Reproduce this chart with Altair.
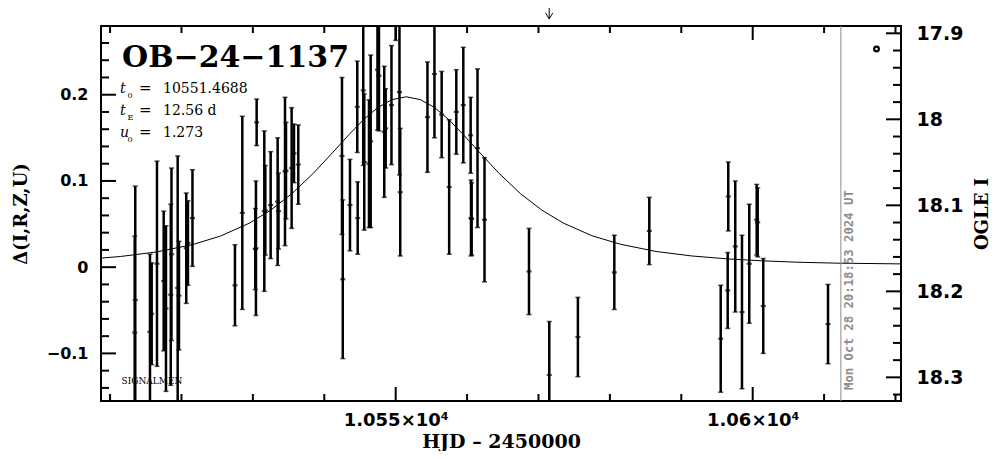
import altair as alt
import pandas as pd

# ---------------- data ----------------
hjd = [10513.53, 10513.45, 10515.59, 10515.83, 10516.57, 10517.51, 10517.83, 10518.60, 10518.50,
       10519.47, 10519.65, 10520.67, 10520.91, 10521.54,
       10527.49, 10528.52, 10530.53, 10530.43, 10530.34, 10531.60, 10531.74, 10532.49, 10533.47,
       10533.59, 10534.50, 10534.64, 10535.43, 10535.76, 10536.36,
       10542.48, 10542.59, 10543.60, 10544.62, 10544.68, 10545.46, 10545.60, 10546.26, 10546.50,
       10547.45, 10547.66, 10548.40, 10548.60, 10549.41, 10550.01, 10550.53, 10550.64,
       10554.45, 10555.43, 10556.44, 10557.49, 10558.49, 10559.47, 10560.50, 10560.55, 10560.64,
       10561.46, 10562.44,
       10568.67, 10571.51, 10575.52, 10580.62, 10585.52,
       10595.52, 10596.50, 10596.58, 10597.56, 10598.50, 10599.52, 10600.56, 10600.70, 10601.48,
       10610.55]
delta = [-0.038, -0.076, -0.075, -0.054, 0.004, -0.016, -0.048, 0.015, -0.032,
         -0.024, -0.033, 0.022, 0.028, 0.057,
         -0.021, 0.063, 0.168, 0.022, 0.021, 0.065, 0.066, 0.072, 0.076,
         0.065, 0.111, 0.112, 0.115, 0.132, 0.119,
         0.129, -0.014, 0.072, 0.186, 0.057, 0.205, 0.122, 0.120, 0.146,
         0.229, 0.222, 0.157, 0.161, 0.188, 0.298, 0.203, 0.087,
         0.174, 0.224, 0.177, 0.093, 0.180, 0.188, 0.153, 0.057, 0.056,
         0.138, 0.055,
         -0.005, -0.125, -0.081, -0.006, 0.042,
         -0.083, -0.027, 0.082, 0.024, -0.052, 0.004, 0.055, 0.052, -0.045,
         -0.066]
err = [0.132, 0.112, 0.090, 0.059, 0.119, 0.081, 0.096, 0.100, 0.105,
       0.153, 0.063, 0.064, 0.049, 0.056,
       0.047, 0.112, 0.027, 0.078, 0.047, 0.093, 0.052, 0.062, 0.074,
       0.044, 0.086, 0.056, 0.070, 0.034, 0.046,
       0.091, 0.092, 0.053, 0.053, 0.042, 0.087, 0.079, 0.074, 0.100,
       0.070, 0.064, 0.076, 0.046, 0.069, 0.035, 0.096, 0.074,
       0.064, 0.074, 0.050, 0.078, 0.049, 0.067, 0.044, 0.044, 0.042,
       0.092, 0.072,
       0.050, 0.062, 0.046, 0.043, 0.039,
       0.062, 0.044, 0.040, 0.076, 0.089, 0.069, 0.041, 0.040, 0.055,
       0.046]

# model curve
model_hjd = [10508.73, 10511.47, 10516.47, 10521.47, 10525.47, 10529.47, 10532.47, 10535.47,
             10538.47, 10541.47, 10543.47, 10545.47, 10547.47, 10549.47, 10551.47, 10553.47,
             10555.47, 10557.47, 10559.47, 10561.47, 10564.47, 10567.47, 10570.47, 10573.47,
             10577.47, 10581.47, 10586.47, 10591.47, 10596.47, 10601.47, 10606.47, 10611.47,
             10620.77]
model_delta = [0.0105, 0.0124, 0.0176, 0.0260, 0.0361, 0.0509, 0.0660, 0.0853,
               0.1089, 0.1356, 0.1538, 0.1709, 0.1850, 0.1943, 0.1976, 0.1943,
               0.1850, 0.1709, 0.1538, 0.1356, 0.1089, 0.0853, 0.0662, 0.0512,
               0.0365, 0.0266, 0.0182, 0.0130, 0.0096, 0.0073, 0.0057, 0.0047,
               0.0038]

x_major = [10550, 10600]
x_minor = [10510, 10520, 10530, 10540, 10560, 10570, 10580, 10590, 10610, 10620]
y_major = [-0.1, 0.0, 0.1, 0.2]
y_minor = [-0.14, -0.12, -0.08, -0.06, -0.04, -0.02, 0.02, 0.04, 0.06, 0.08,
           0.12, 0.14, 0.16, 0.18, 0.22, 0.24, 0.26]
mag_major = [17.9, 18.0, 18.1, 18.2, 18.3]
mag_minor = [17.92, 17.94, 17.96, 17.98, 18.02, 18.04, 18.06, 18.08, 18.12, 18.14,
             18.16, 18.18, 18.22, 18.24, 18.26, 18.28, 18.32]

event_name = "OB\u221224\u22121137"
param_sym = ["t", "t", "u"]
param_sub = ["0", "E", "0"]
param_val = ["10551.4688", "12.56 d", "1.273"]
survey_label = "SIGNALMEN"
timestamp = "Mon Oct 28 20:18:53 2024 UT"
now_hjd = [10612.35]
arrow_hjd = [10571.5]

X_DOMAIN = [10508.73, 10620.77]
Y_DOMAIN = [-0.1552, 0.2797]
M_DOMAIN = [17.8915, 18.3275]
W, H = 800, 375

# ---------------- chart ----------------
pts = pd.DataFrame({"hjd": hjd, "delta": delta, "err": err})
pts["lo"] = pts["delta"] - pts["err"]
pts["hi"] = pts["delta"] + pts["err"]
model = pd.DataFrame({"hjd": model_hjd, "delta": model_delta})

xs = alt.Scale(domain=X_DOMAIN, nice=False, zero=False)
ys = alt.Scale(domain=Y_DOMAIN, nice=False, zero=False)
ms = alt.Scale(domain=M_DOMAIN, nice=False, zero=False, reverse=True)

xaxis = alt.Axis(values=x_major, labelExpr="format(datum.value / 10000, '') + '\u00d710\u2074'",
                 labelFontSize=18, labelPadding=10, title="HJD \u2013 2450000",
                 titleFontSize=19, titlePadding=3, orient="bottom")
yaxis = alt.Axis(values=y_major,
                 labelExpr="datum.value < 0 ? '\u2212' + format(-datum.value, '') : format(datum.value, '')",
                 labelFontSize=16, labelPadding=13, title="\u0394(I,R,Z,U)",
                 titleFontSize=18, titleAngle=270, titlePadding=16)
maxis = alt.Axis(values=mag_major, orient="right", labelExpr="format(datum.value, '')",
                 labelFontSize=19, labelPadding=15, title="OGLE I", titleFontSize=18,
                 titleAngle=270, titleBaseline="top", titlePadding=11)

X = alt.X("hjd:Q", scale=xs, axis=xaxis)


def Y(field):
    return alt.Y(f"{field}:Q", scale=ys, axis=yaxis)


curve = alt.Chart(model).mark_line(color="black", strokeWidth=1, clip=True).encode(x=X, y=Y("delta"))
bars = alt.Chart(pts).mark_rule(color="black", strokeWidth=2.5, clip=True).encode(
    x=X, y=Y("lo"), y2=alt.Y2("hi"))
caps_lo = alt.Chart(pts).mark_tick(orient="horizontal", color="black", size=5, thickness=1.5,
                                   clip=True).encode(x=X, y=Y("lo"))
caps_hi = alt.Chart(pts).mark_tick(orient="horizontal", color="black", size=5, thickness=1.5,
                                   clip=True).encode(x=X, y=Y("hi"))
dots = alt.Chart(pts).mark_tick(orient="horizontal", color="black", size=5, thickness=2.2,
                                clip=True).encode(x=X, y=Y("delta"))


def xticks(values, length):
    df = pd.DataFrame({"hjd": values})
    top = alt.Chart(df).mark_rule(color="black", strokeWidth=2).encode(
        x=X, y=alt.value(0), y2=alt.value(length))
    bot = alt.Chart(df).mark_rule(color="black", strokeWidth=2).encode(
        x=X, y=alt.value(H), y2=alt.value(H - length))
    return [top, bot]


def yticks(values, length):
    df = pd.DataFrame({"delta": values})
    return alt.Chart(df).mark_rule(color="black", strokeWidth=2).encode(
        y=Y("delta"), x=alt.value(0), x2=alt.value(length))


def mticks(values, length):
    df = pd.DataFrame({"mag": values})
    return alt.Chart(df).mark_rule(color="black", strokeWidth=2).encode(
        y=alt.Y("mag:Q", scale=ms, axis=maxis), x=alt.value(W), x2=alt.value(W - length))


def label(text, x, y, **kw):
    return alt.Chart(pd.DataFrame({"label": [text]})).mark_text(**kw).encode(
        x=alt.value(x), y=alt.value(y), text="label:N")


now_line = alt.Chart(pd.DataFrame({"hjd": now_hjd})).mark_rule(
    color="#8c8c8c", strokeWidth=1).encode(x=X, y=alt.value(0), y2=alt.value(H))
arrow_shaft = alt.Chart(pd.DataFrame({"hjd": arrow_hjd})).mark_rule(
    color="black", strokeWidth=1).encode(x=X, y=alt.value(-30), y2=alt.value(-7))
arrow_head = alt.Chart(pd.DataFrame({"hjd": arrow_hjd})).mark_point(
    shape="M-1,-1.7L0,0L1,-1.7", filled=False, size=49, strokeWidth=1, color="black",
    opacity=1).encode(x=X, y=alt.value(-7))
marker = alt.Chart(pd.DataFrame({"label": ["o"]})).mark_point(
    shape="circle", filled=False, size=22, strokeWidth=2.2, color="black", opacity=1).encode(
    x=alt.value(775.5), y=alt.value(23))

texts = [
    label(event_name, 21, 41, font="DejaVu Serif", fontWeight="bold", fontSize=30,
          align="left", baseline="alphabetic", color="black"),
    label(survey_label, 20.5, 358, font="DejaVu Serif", fontSize=9, align="left",
          baseline="alphabetic", color="black"),
    label(timestamp, 751.5, 364, font="DejaVu Sans Mono", fontWeight="bold", fontSize=12.3,
          angle=270, align="left", baseline="alphabetic", color="#8c8c8c"),
]
for i in range(3):
    base = 67 + 22 * i
    texts.append(label(param_sym[i], 19, base, font="DejaVu Serif", fontStyle="italic",
                       fontSize=14, align="left", baseline="alphabetic", color="black"))
    texts.append(label(param_sub[i], 26.5, base + 5, font="DejaVu Serif", fontSize=8,
                       align="left", baseline="alphabetic", color="black"))
    texts.append(label("=", 38, base, font="DejaVu Serif", fontSize=15,
                       align="left", baseline="alphabetic", color="black"))
    texts.append(label(param_val[i], 62, base, font="DejaVu Serif", fontSize=14,
                       align="left", baseline="alphabetic", color="black"))

left = alt.layer(
    curve, bars, caps_lo, caps_hi, dots,
    *xticks(x_major, 14), *xticks(x_minor, 7),
    yticks(y_major, 15), yticks(y_minor, 8),
    now_line, arrow_shaft, arrow_head, marker, *texts,
)
right = alt.layer(mticks(mag_major, 15), mticks(mag_minor, 8))

chart = alt.layer(left, right).resolve_scale(y="independent").properties(
    width=W, height=H,
    autosize=alt.AutoSizeParams(type="none"),
    padding={"left": 93, "top": 18, "right": 95, "bottom": 50},
).configure_view(stroke="black", strokeWidth=2).configure_axis(
    grid=False, ticks=False, domain=False, labelColor="black", titleColor="black",
    labelFont="DejaVu Sans", labelFontWeight="bold", titleFont="DejaVu Serif",
    titleFontWeight="bold", labelOverlap=False, labelFlush=False,
)

chart.save("out.html", embed_options={"renderer": "svg", "actions": False})
